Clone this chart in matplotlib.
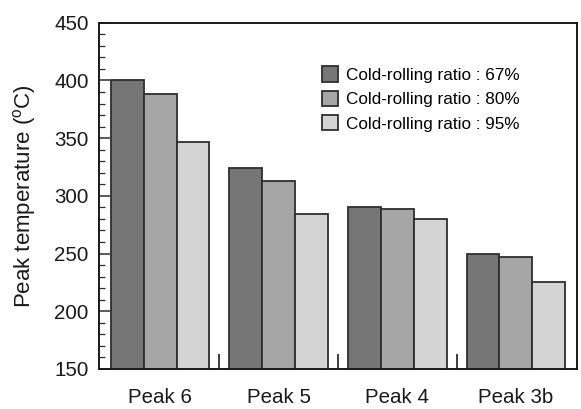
"""Peak temperature per DSC peak for three cold-rolling ratios (grouped bars)."""

import matplotlib

matplotlib.use("Agg")
import matplotlib.pyplot as plt
import numpy as np
from matplotlib.ticker import MultipleLocator

plt.rcParams["font.family"] = ["Liberation Sans", "DejaVu Sans"]
plt.rcParams["mathtext.fontset"] = "custom"
plt.rcParams["mathtext.rm"] = "Liberation Sans"

peaks = ["Peak 6", "Peak 5", "Peak 4", "Peak 3b"]
ratio_labels = ["Cold-rolling ratio : 67%", "Cold-rolling ratio : 80%", "Cold-rolling ratio : 95%"]
temp_67 = [400, 324, 290, 250]
temp_80 = [388, 313, 289, 247]
temp_95 = [347, 284, 280, 225]

colors = ["#767676", "#a6a6a6", "#d4d4d4"]
EDGE = "#2e2e2e"


def main() -> None:
    fig = plt.figure(figsize=(5.81, 4.09), dpi=100)
    ax = fig.add_axes([0.1704, 0.0978, 0.8227, 0.8467])

    x = np.arange(len(peaks))
    w = 0.277
    for i, (vals, lab, col) in enumerate(zip([temp_67, temp_80, temp_95], ratio_labels, colors)):
        ax.bar(x + (i - 1) * w, vals, width=w, bottom=0, color=col,
               edgecolor=EDGE, linewidth=1.3, label=lab, zorder=2)

    ax.set_xlim(-0.515, 3.515)
    ax.set_ylim(150, 450)

    ax.set_xticks(x)
    ax.set_xticklabels(peaks, fontsize=14.8, color="#1a1a1a")
    ax.set_xticks(x[:-1] + 0.5, minor=True)
    ax.tick_params(axis="x", which="major", length=0, pad=13.5)
    ax.tick_params(axis="x", which="minor", direction="in", length=10.8, width=1.3, color=EDGE)

    ax.yaxis.set_major_locator(MultipleLocator(50))
    ax.yaxis.set_minor_locator(MultipleLocator(10))
    ax.tick_params(axis="y", which="major", direction="in", length=7.9, width=1.1,
                   labelsize=14.8, pad=7.5, labelcolor="#1a1a1a", color=EDGE)
    ax.tick_params(axis="y", which="minor", direction="in", length=4.3, width=0.9, color=EDGE)

    ax.set_ylabel("Peak temperature ($^{\\mathrm{o}}$C)", fontsize=16, color="#1a1a1a", labelpad=11.5)

    for sp in ax.spines.values():
        sp.set_linewidth(1.4)
        sp.set_color("#1a1a1a")
        sp.set_zorder(3)

    ax.legend(loc="upper left", bbox_to_anchor=(0.5547, 0.8375), bbox_transform=fig.transFigure,
              frameon=False, fontsize=12.3, handlelength=0.94, handleheight=1.0,
              handletextpad=0.45, labelspacing=0.46, borderpad=0, borderaxespad=0)

    fig.savefig("out.png", dpi=100)


if __name__ == "__main__":
    main()
